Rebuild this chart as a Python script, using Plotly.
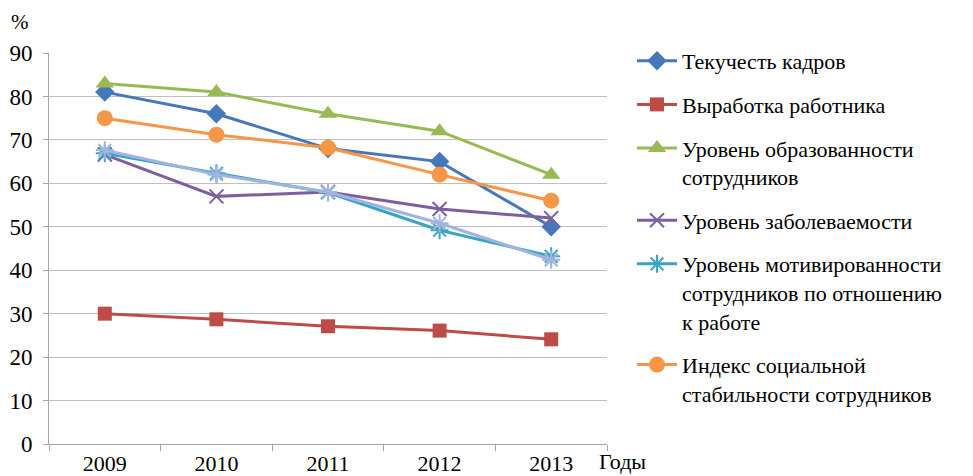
import plotly.graph_objects as go

years = ["2009", "2010", "2011", "2012", "2013"]

turnover = [81, 76, 68, 65, 50]
output_per_worker = [30, 28.7, 27.1, 26.1, 24.1]
education = [83, 81, 76, 72, 62]
morbidity = [66.6, 57, 58, 54.1, 52]
motivation = [66.9, 62.3, 57.9, 49.2, 43.2]
social_index = [75, 71.2, 68.2, 62, 56]
extra_series = [67.6, 62, 58, 50.8, 42.4]

names = [
    "Текучесть кадров",
    "Выработка работника",
    "Уровень образованности<br>сотрудников",
    "Уровень заболеваемости",
    "Уровень мотивированности<br>сотрудников по отношению<br>к работе",
    "Индекс социальной<br>стабильности сотрудников",
]

FONT = "Liberation Serif"

fig = go.Figure()

def add(y, name, color, symbol, size, legend=True, group=None, open_sym=False):
    marker = dict(symbol=symbol, size=size, color=color)
    if open_sym:
        marker["line"] = dict(color=color, width=2)
    else:
        marker["line"] = dict(width=0)
    fig.add_trace(go.Scatter(
        x=years, y=y, name=name, mode="lines+markers",
        line=dict(color=color, width=3),
        marker=marker, showlegend=legend,
        legendgroup=group,
    ))

add(turnover, names[0], "#4677BA", "diamond", 15, group="g1")
add(output_per_worker, names[1], "#BE4B48", "square", 14, group="g2")
add(education, names[2], "#98B954", "triangle-up", 16, group="g3")
add(morbidity, names[3], "#7D5FA0", "x-thin-open", 14, group="g4", open_sym=True)
add(motivation, names[4], "#38A6C0", "asterisk-open", 15, group="g5", open_sym=True)
add(social_index, names[5], "#F79646", "circle", 16, group="g6")
add(extra_series, "extra", "#A3B3DF", "asterisk-open", 15, legend=False, group="g7", open_sym=True)

L, R, T, B = 49, 607, 53, 444
W, H = 973, 476

fig.update_layout(
    width=W, height=H,
    margin=dict(l=L, r=W - R, t=T, b=H - B, autoexpand=False),
    paper_bgcolor="white", plot_bgcolor="white",
    font=dict(family=FONT, size=21, color="#000000"),
    showlegend=True,
    legend=dict(
        x=(632 - L) / (R - L), y=(B - 40) / (B - T),
        xanchor="left", yanchor="top",
        font=dict(family=FONT, size=22, color="#000000"),
        traceorder="grouped", tracegroupgap=12,
        valign="top", itemwidth=40,
        maxheight=440,
        bgcolor="rgba(0,0,0,0)",
    ),
    xaxis=dict(
        type="category", range=[-0.5, 4.5], automargin=False,
        showline=True, linecolor="#A6A6A6", linewidth=1,
        ticks="outside", tickson="boundaries", ticklen=6, tickcolor="#A6A6A6",
        showgrid=False, tickfont=dict(family=FONT, size=22, color="#000000"),
        ticklabelstandoff=0,
    ),
    yaxis=dict(
        range=[0, 90], dtick=10, tick0=0, automargin=False,
        showline=True, linecolor="#A6A6A6", linewidth=1,
        ticks="outside", ticklen=5, tickcolor="#A6A6A6",
        showgrid=True, gridcolor="#BFBFBF", gridwidth=1,
        zeroline=False, tickfont=dict(family=FONT, size=23, color="#000000"),
        ticklabelstandoff=6,
    ),
    annotations=[
        dict(text="Годы", xref="paper", yref="paper",
             x=(622 - L) / (R - L), y=(B - 462) / (B - T),
             xanchor="center", yanchor="middle", showarrow=False,
             font=dict(family=FONT, size=22, color="#000000")),
        dict(text="%", xref="paper", yref="paper",
             x=(20 - L) / (R - L), y=(B - 22) / (B - T),
             xanchor="center", yanchor="middle", showarrow=False,
             font=dict(family=FONT, size=21, color="#000000")),
    ],
)

fig.write_html("out.html")
